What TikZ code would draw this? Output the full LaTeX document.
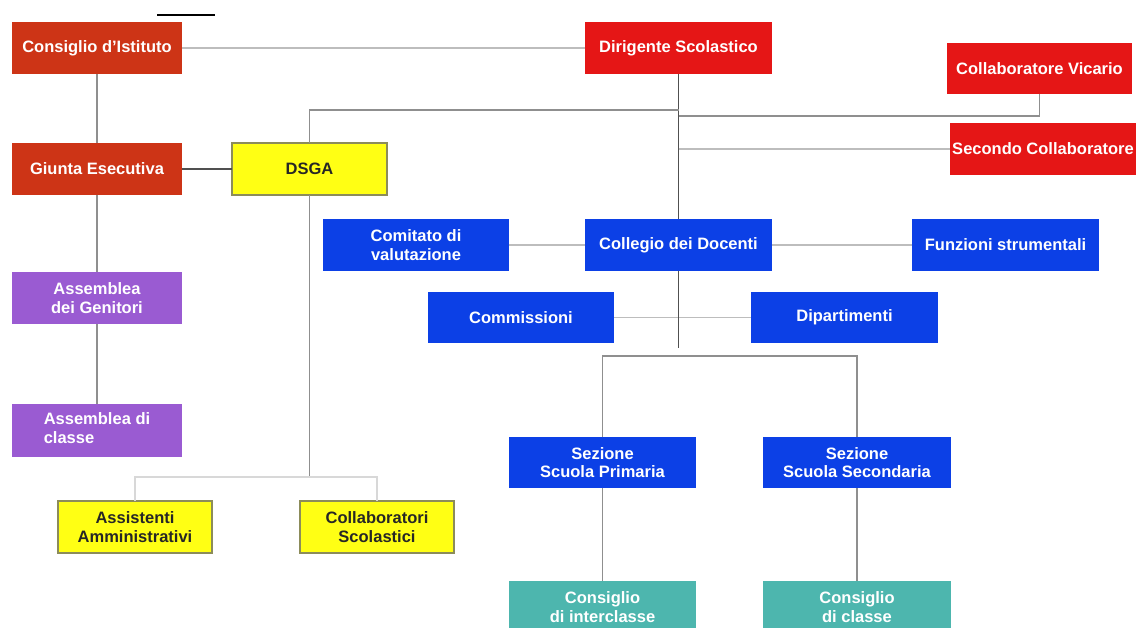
\documentclass[tikz,border=0pt]{standalone}
\usepackage{fontspec}
\setmainfont{Liberation Sans}
\usetikzlibrary{positioning}
\definecolor{brick}{HTML}{CD3416}
\definecolor{signal}{HTML}{E51616}
\definecolor{royal}{HTML}{0C40E6}
\definecolor{lilac}{HTML}{9A5BD2}
\definecolor{seafoam}{HTML}{4DB6AE}
\definecolor{lemon}{HTML}{FFFF14}
\definecolor{olive}{HTML}{8C8C5A}
\definecolor{lineLight}{HTML}{BDBDBD}
\definecolor{lineMid}{HTML}{8F8F8F}
\definecolor{lineDark}{HTML}{505050}
\definecolor{lineFaint}{HTML}{D8D8D8}

\begin{document}
\begin{tikzpicture}[
  x=1pt,y=1pt,
  box/.style={rectangle,inner sep=1pt,outer sep=0pt,minimum width=187pt,minimum height=52pt,align=center,text=white,font=\fontsize{16.5}{18.5}\selectfont\bfseries},
  brickbox/.style={box,fill=brick,minimum width=170pt},
  redbox/.style={box,fill=signal,minimum width=185pt},
  bluebox/.style={box,fill=royal},
  lilacbox/.style={box,fill=lilac,minimum width=170pt},
  seabox/.style={box,fill=seafoam},
  lemonbox/.style={box,fill=lemon,draw=olive,line width=1.2pt,text=black!85,minimum width=154pt},
  linklight/.style={draw=lineLight,line width=1.4pt},
  linkmid/.style={draw=lineMid,line width=1.5pt},
  linkdark/.style={draw=lineDark,line width=1.5pt},
  linkfaint/.style={draw=lineFaint,line width=1.4pt}
]
  \useasboundingbox (0,0) rectangle (1136,-628);
  \clip (0,0) rectangle (1136,-628);
  \draw[line width=1.5pt] (157,-15) -- (215,-15);

  % left column: organi collegiali
  \node[brickbox] (cdi) at (97,-48) {Consiglio d'Istituto};
  \node[brickbox,below=69pt of cdi] (ge) {Giunta Esecutiva};
  \node[lilacbox,below=77pt of ge] (ag) {Assemblea\\dei Genitori};
  \node[lilacbox,below=80pt of ag,minimum height=53pt] (acl) {\begin{tabular}{@{}l@{}}Assemblea di\\classe\end{tabular}};
  \node[lemonbox,right=50pt of ge,minimum width=155pt] (dsga) {DSGA};
  \node[lemonbox] (aa) at (135,-527) {Assistenti\\Amministrativi};
  \node[lemonbox] (cs) at (377,-527) {Collaboratori\\Scolastici};

  % dirigenza
  \node[redbox,minimum width=187pt] (ds) at (678.5,-48) {Dirigente Scolastico};
  \node[redbox,minimum height=51pt] (cv) at (1039.5,-68.5) {Collaboratore Vicario};
  \node[redbox,minimum width=186pt] (sc) at (1043,-149) {Secondo Collaboratore};

  % area didattica
  \node[bluebox,below=145pt of ds] (cd) {Collegio dei Docenti};
  \node[bluebox,left=76pt of cd,minimum width=186pt] (cdv) {Comitato di\\valutazione};
  \node[bluebox,right=140pt of cd] (fs) {Funzioni strumentali};
  \node[bluebox,minimum width=186pt,minimum height=51pt] (com) at (521,-317.5) {Commissioni};
  \node[bluebox,minimum height=51pt] (dip) at (844.5,-317.5) {Dipartimenti};
  \node[bluebox,minimum height=51pt] (ssp) at (602.5,-462.5) {Sezione\\Scuola Primaria};
  \node[bluebox,minimum width=188pt,minimum height=51pt] (sss) at (857,-462.5) {Sezione\\Scuola Secondaria};
  \node[seabox,below=93pt of ssp] (ci) {Consiglio\\di interclasse};
  \node[seabox,below=93pt of sss,minimum width=188pt] (cc) {Consiglio\\di classe};

  \coordinate (j1) at (678.5,-110);
  \coordinate (j2) at (678.5,-116);
  \coordinate (j3) at (678.5,-149);
  \coordinate (cdend) at (678.5,-348);
  \coordinate (secbar) at (678.5,-356);
  \coordinate (atabar) at (309.5,-477);

  \draw[linklight] (cdi.east) -- (ds.west);
  \draw[linkmid] (cdi.south) -- (ge.north);
  \draw[linkdark] (ge.east) -- (dsga.west);
  \draw[linkmid] (ge.south) -- (ag.north);
  \draw[linkmid] (ag.south) -- (acl.north);
  \draw[linkdark] (ds.south) -- (cd.north);
  \draw[linkmid] (dsga.north) |- (j1);
  \draw[linkmid] (cv.south) |- (j2);
  \draw[linklight] (j3) -- (sc.west);
  \draw[linklight] (cdv.east) -- (cd.west);
  \draw[linklight] (cd.east) -- (fs.west);
  \draw[linklight] (com.east) -- (dip.west);
  \draw[linkdark] (cd.south) -- (cdend);
  \draw[linkmid] (ssp.north) |- (secbar) -| (sss.north);
  \draw[linkmid] (ssp.south) -- (ci.north);
  \draw[linkmid] (sss.south) -- (cc.north);
  \draw[linkmid] (dsga.south) -- (atabar);
  \draw[linkfaint] (aa.north) |- (atabar) -| (cs.north);
\end{tikzpicture}
\end{document}
